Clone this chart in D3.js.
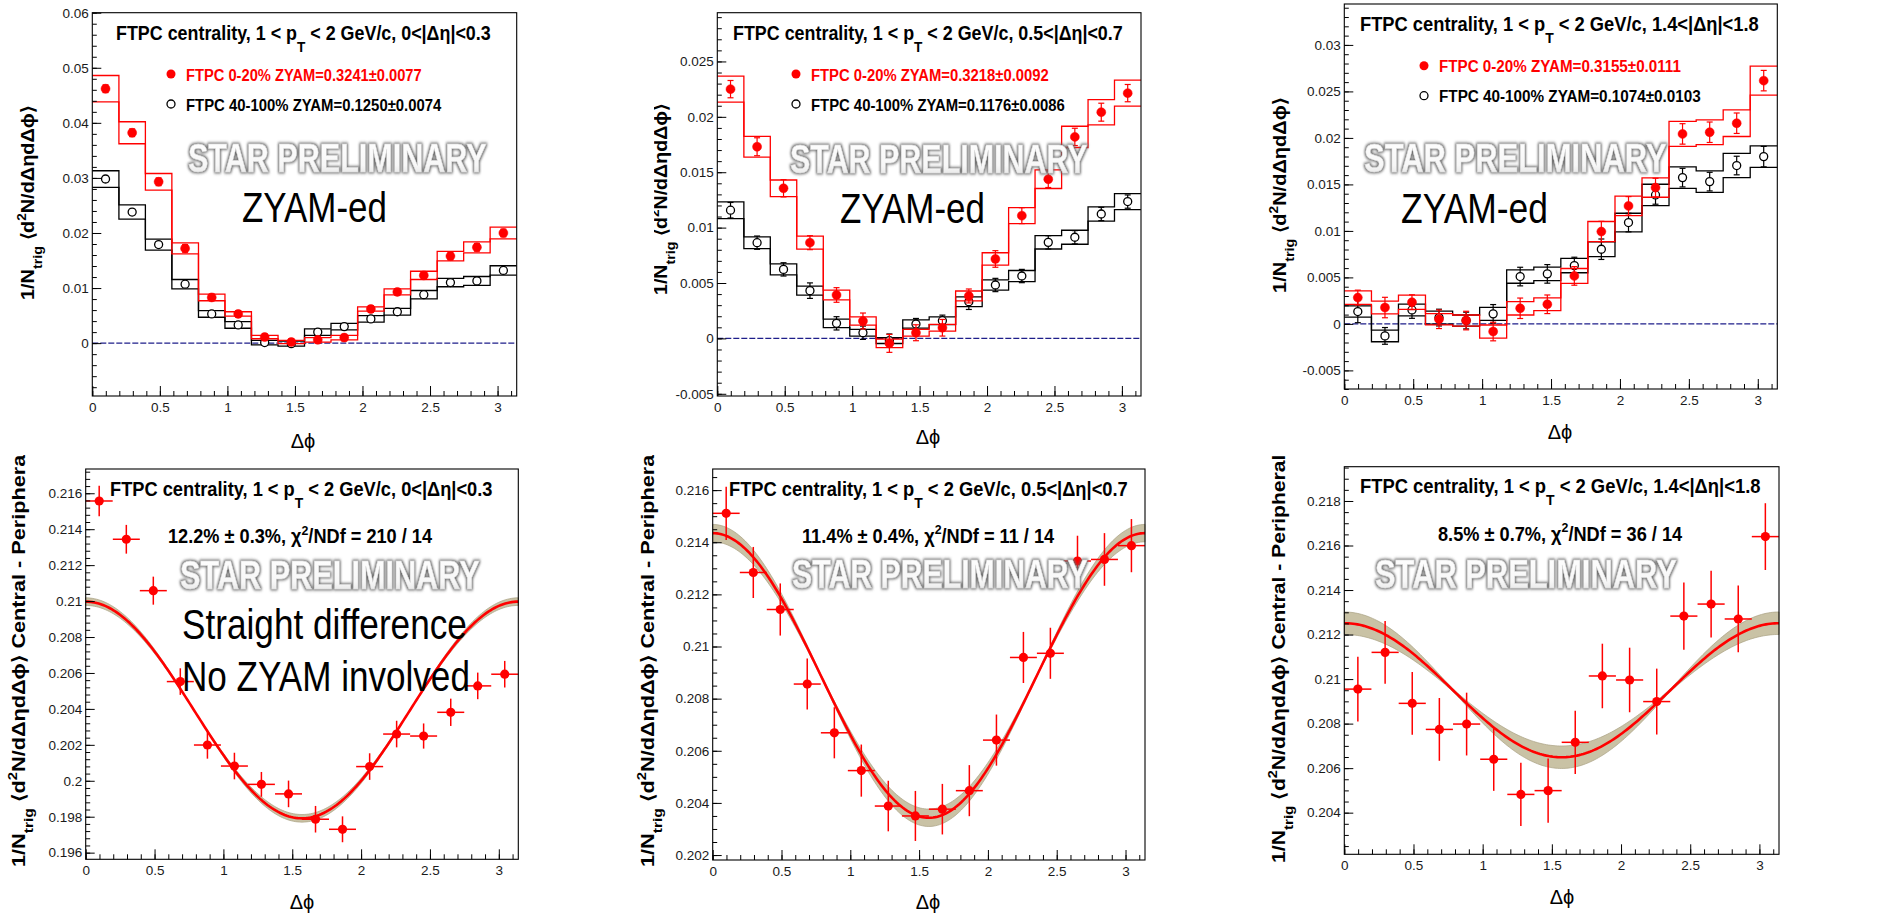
<!DOCTYPE html>
<html><head><meta charset="utf-8">
<script src="https://d3js.org/d3.v7.min.js"></script>
<style>
html,body{margin:0;padding:0;background:#fff;}
svg{display:block;font-family:"Liberation Sans",Arial,Helvetica,sans-serif;}
text{white-space:pre;}
</style>
</head><body>
<svg id="c" width="1880" height="914"></svg>
<script>
// ---------------- DATA ----------------
const phiCenters = [0.098,0.295,0.491,0.687,0.884,1.080,1.276,1.473,1.669,1.865,2.062,2.258,2.454,2.651,2.847,3.043];
const binHalfWidth = 0.098;
const xTickValues = [0,0.5,1,1.5,2,2.5,3];
const xTickLabels = ["0","0.5","1","1.5","2","2.5","3"];
const etaRanges = ["0<|Δη|<0.3","0.5<|Δη|<0.7","1.4<|Δη|<1.8"];

// top row: ZYAM-subtracted correlations
const legendCentral = ["FTPC 0-20% ZYAM=0.3241±0.0077","FTPC 0-20% ZYAM=0.3218±0.0092","FTPC 0-20% ZYAM=0.3155±0.0111"];
const legendPeriph  = ["FTPC 40-100% ZYAM=0.1250±0.0074","FTPC 40-100% ZYAM=0.1176±0.0086","FTPC 40-100% ZYAM=0.1074±0.0103"];

const zyamCentral1     = [0.0462,0.0382,0.0293,0.0172,0.0083,0.0053,0.0011,0.0002,0.0006,0.0010,0.0062,0.0093,0.0123,0.0158,0.0174,0.0200];
const zyamCentral1Stat = [0.0007,0.0007,0.0007,0.0007,0.0006,0.0006,0.0006,0.0006,0.0006,0.0006,0.0006,0.0006,0.0006,0.0007,0.0007,0.0007];
const zyamCentral1Sys  = [0.0024,0.0020,0.0015,0.0010,0.0006,0.0004,0.0003,0.0003,0.0004,0.0004,0.0004,0.00055,0.00075,0.00085,0.0010,0.00106];
const zyamPeriph1      = [0.0298,0.0238,0.0179,0.0107,0.0053,0.0033,0.0001,-0.0001,0.0020,0.0030,0.0044,0.0057,0.0088,0.0110,0.0113,0.0132];
const zyamPeriph1Stat  = [0.0005,0.0005,0.0005,0.0005,0.0005,0.0005,0.0005,0.0005,0.0005,0.0005,0.0005,0.0005,0.0005,0.0005,0.0005,0.0005];
const zyamPeriph1Sys   = [0.0015,0.0013,0.0010,0.00085,0.0006,0.0006,0.0004,0.00045,0.0006,0.0006,0.0006,0.0006,0.00076,0.00076,0.0008,0.00085];

const zyamCentral2     = [0.0225,0.0173,0.01355,0.00864,0.00392,0.00157,-0.00045,0.00051,0.00096,0.00383,0.00717,0.01108,0.01437,0.01819,0.02042,0.02214];
const zyamCentral2Stat = [0.00078,0.00081,0.00078,0.00063,0.00066,0.00072,0.00081,0.00072,0.00075,0.00063,0.00075,0.00072,0.00075,0.00078,0.00081,0.00078];
const zyamCentral2Sys  = [0.00117,0.00093,0.00075,0.00059,0.00044,0.00038,0.00039,0.0003,0.0003,0.00045,0.00056,0.00072,0.00084,0.00096,0.00114,0.00117];
const zyamPeriph2      = [0.01157,0.00864,0.00623,0.00431,0.00136,0.00051,-0.0002,0.0013,0.0016,0.00331,0.00482,0.00563,0.00867,0.00913,0.01123,0.01235];
const zyamPeriph2Stat  = [0.0007,0.0006,0.0006,0.0007,0.0006,0.0006,0.0006,0.0005,0.0005,0.0007,0.0006,0.0006,0.0006,0.0006,0.0006,0.0006];
const zyamPeriph2Sys   = [0.00075,0.00053,0.0005,0.0004,0.00038,0.0003,0.00026,0.00038,0.00035,0.00044,0.00047,0.0005,0.0006,0.00063,0.00065,0.00072];

const zyamCentral3     = [0.00283,0.00176,0.00233,0.0005,0.00036,-0.00082,0.00168,0.00211,0.00516,0.00993,0.01269,0.01466,0.02043,0.02061,0.02158,0.02616];
const zyamCentral3Stat = [0.0008,0.0011,0.0008,0.001,0.001,0.001,0.0011,0.001,0.001,0.0011,0.001,0.001,0.0011,0.0011,0.0011,0.0011];
const zyamCentral3Sys  = [0.00072,0.00068,0.00077,0.0006,0.0006,0.0007,0.00072,0.00068,0.0008,0.00108,0.00104,0.00104,0.00134,0.00134,0.00143,0.00156];
const zyamPeriph3      = [0.00133,-0.00129,0.0015,0.00068,0.00036,0.00108,0.00509,0.00538,0.00627,0.00803,0.0109,0.01387,0.01573,0.0153,0.01703,0.01799];
const zyamPeriph3Stat  = [0.0012,0.0009,0.0009,0.0009,0.0009,0.001,0.001,0.001,0.0009,0.0011,0.001,0.001,0.001,0.001,0.001,0.0011];
const zyamPeriph3Sys   = [0.0006,0.00063,0.00063,0.0007,0.0006,0.0007,0.00072,0.00072,0.00077,0.0008,0.001,0.00115,0.00116,0.00115,0.0013,0.00116];

const yTicksTop = [
  [0,0.01,0.02,0.03,0.04,0.05,0.06],
  [-0.005,0,0.005,0.01,0.015,0.02,0.025],
  [-0.005,0,0.005,0.01,0.015,0.02,0.025,0.03]
];
const yLabelsTop = [
  ["0","0.01","0.02","0.03","0.04","0.05","0.06"],
  ["-0.005","0","0.005","0.01","0.015","0.02","0.025"],
  ["-0.005","0","0.005","0.01","0.015","0.02","0.025","0.03"]
];

// bottom row: straight difference central - peripheral
const diff1    = [0.21557,0.21344,0.21058,0.20552,0.20199,0.20082,0.19980,0.19927,0.19786,0.19730,0.20079,0.20260,0.20249,0.20381,0.20528,0.20593];
const diff1Err = [0.00085,0.0008,0.00078,0.00074,0.00076,0.00074,0.00069,0.00074,0.00074,0.00072,0.00074,0.00074,0.0007,0.00076,0.00074,0.00074];
const diff2    = [0.21511,0.21284,0.21142,0.20856,0.20669,0.20524,0.20388,0.20350,0.20376,0.20447,0.20641,0.20958,0.20974,0.21328,0.21334,0.21387];
const diff2Err = [0.00102,0.00098,0.001,0.00098,0.00098,0.001,0.00097,0.00096,0.00097,0.00098,0.00098,0.00098,0.00098,0.00097,0.00101,0.00102];
const diff3    = [0.20955,0.21120,0.20891,0.20774,0.20798,0.20640,0.20482,0.20499,0.20716,0.21014,0.20996,0.20899,0.21283,0.21337,0.21270,0.21640];
const diff3Err = [0.00145,0.00141,0.00141,0.00141,0.00141,0.00142,0.00142,0.00144,0.00142,0.00145,0.00145,0.00148,0.00151,0.0015,0.0015,0.0015];

// fit: base + amp*cos(2 dphi), band from parameter errors
const fitBase    = [0.20394,0.20889,0.20950];
const fitAmp     = [0.00603,0.00546,0.00301];
const fitErrBase = [0.00003,0.00005,0.00007];
const fitErrAmp  = [0.00021,0.00033,0.0005];
const fitResult  = ["12.2%","11.4%","8.5%"];
const fitResErr  = ["0.3%","0.4%","0.7%"];
const fitChi2    = ["210 / 14","11 / 14","36 / 14"];

const yTicksBot = [
  [0.196,0.198,0.200,0.202,0.204,0.206,0.208,0.210,0.212,0.214,0.216],
  [0.202,0.204,0.206,0.208,0.210,0.212,0.214,0.216],
  [0.204,0.206,0.208,0.210,0.212,0.214,0.216,0.218]
];
const yLabelsBot = [
  ["0.196","0.198","0.2","0.202","0.204","0.206","0.208","0.21","0.212","0.214","0.216"],
  ["0.202","0.204","0.206","0.208","0.21","0.212","0.214","0.216"],
  ["0.204","0.206","0.208","0.21","0.212","0.214","0.216","0.218"]
];

// ---------------- LAYOUT ----------------
const RED = "#ff0000";
const FONT = "'Liberation Sans', Arial, Helvetica, sans-serif";
const svg = d3.select("#c");

const defs = svg.append("defs");
const flt = defs.append("filter").attr("id","wm").attr("x","-10%").attr("y","-50%").attr("width","120%").attr("height","200%");
flt.append("feMorphology").attr("in","SourceAlpha").attr("operator","dilate").attr("radius",1.0).attr("result","dil");
flt.append("feGaussianBlur").attr("in","dil").attr("stdDeviation",1.5).attr("result","blur");
flt.append("feFlood").attr("flood-color","#6a6a6a").attr("result","col");
flt.append("feComposite").attr("in","col").attr("in2","blur").attr("operator","in").attr("result","shadow");
const mg = flt.append("feMerge");
mg.append("feMergeNode").attr("in","shadow");
mg.append("feMergeNode").attr("in","SourceGraphic");
const grad = defs.append("linearGradient").attr("id","wmfill").attr("x1",0).attr("y1",0).attr("x2",0).attr("y2",1);
grad.append("stop").attr("offset","0%").attr("stop-color","#ffffff");
grad.append("stop").attr("offset","65%").attr("stop-color","#f7f7f7");
grad.append("stop").attr("offset","100%").attr("stop-color","#dcdcdc");

function addClip(id, x, y, w, h) {
  defs.append("clipPath").attr("id", id).append("rect").attr("x",x).attr("y",y).attr("width",w).attr("height",h);
}

function richText(parent, parts, fs, weight, fill) {
  const t = parent.append("text").attr("x",0).attr("y",0)
    .attr("font-size", fs).attr("font-weight", weight).attr("fill", fill).attr("font-family", FONT);
  let shift = 0;
  parts.forEach(p => {
    const ts = t.append("tspan").text(p.t);
    let target = 0, size = fs;
    if (p.sub) { target = p.shift !== undefined ? p.shift : fs * 0.45; size = fs * (p.scale || 0.72); }
    if (p.sup) { target = -fs * 0.42; size = fs * 0.68; }
    ts.attr("font-size", size);
    if (Math.abs(target - shift) > 1e-6) { ts.attr("dy", target - shift); shift = target; }
  });
  return t;
}

function placeText(parts, x, y, targetW, fs, weight, fill, extra) {
  const g = svg.append("g");
  const t = richText(g, parts, fs, weight, fill);
  if (extra) extra(t);
  const w = t.node().getBBox().width;
  g.attr("transform", `translate(${x},${y}) scale(${targetW / w},1)`);
  return g;
}
function placeVText(parent, parts, bx, by, len, fs) {
  const g = parent.append("g");
  const t = richText(g, parts, fs, "bold", "#000");
  const w = t.node().getBBox().width;
  g.attr("transform", `translate(${bx},${by}) rotate(-90) scale(${len / w},1)`);
  return g;
}
function watermark(x, y, w) {
  placeText([{t:"STAR PRELIMINARY"}], x, y, w, 40, "bold", "url(#wmfill)", t => t.attr("filter","url(#wm)").attr("stroke","#d8d8d8").attr("stroke-width",0.5));
}
function titleParts(eta) {
  return [{t:"FTPC centrality, 1 < p"},{t:"T", sub:true, shift:12, scale:0.76},{t:" < 2 GeV/c, " + eta}];
}
function minorRange(d0, d1, step) {
  const a = Math.ceil(d0 / step - 1e-6), b = Math.floor(d1 / step + 1e-6);
  return d3.range(a, b + 1).map(k => +(k * step).toFixed(6));
}

function drawAxes(g, x, y, L, yTicks, yLabels, yMinorStep) {
  const dom = y.domain();
  const style = sel => {
    sel.select(".domain").remove();
    sel.selectAll("line").attr("stroke","#000").attr("stroke-width",1);
    sel.selectAll("text").attr("font-size",13.5).attr("font-family",FONT).attr("fill","#1a1a1a");
    sel.attr("font-family", null).attr("font-size", null);
  };
  g.append("g").attr("transform",`translate(0,${L.y1})`)
    .call(d3.axisBottom(x).tickValues(minorRange(0, Math.PI, 0.1)).tickSize(-5).tickFormat(""))
    .call(style);
  g.append("g").attr("transform",`translate(0,${L.y1})`)
    .call(d3.axisBottom(x).tickValues(xTickValues).tickSize(-10).tickPadding(6).tickFormat((d,i) => xTickLabels[i]))
    .call(style);
  g.append("g").attr("transform",`translate(${L.x0},0)`)
    .call(d3.axisLeft(y).tickValues(minorRange(dom[0], dom[1], yMinorStep)).tickSize(-4.5).tickFormat(""))
    .call(style);
  g.append("g").attr("transform",`translate(${L.x0},0)`)
    .call(d3.axisLeft(y).tickValues(yTicks).tickSize(-9).tickPadding(3.5).tickFormat((d,i) => yLabels[i]))
    .call(style);
  g.append("rect").attr("x",L.x0).attr("y",L.y0).attr("width",L.x1-L.x0).attr("height",L.y1-L.y0)
    .attr("fill","none").attr("stroke","#000").attr("stroke-width",1.1);
}

function stepPath(x, y, vals) {
  const pts = vals.map((v,i) => [phiCenters[i] - binHalfWidth, v]);
  pts.push([phiCenters[vals.length-1] + binHalfWidth, vals[vals.length-1]]);
  return d3.line().x(d => x(d[0])).y(d => y(d[1])).curve(d3.curveStepAfter)(pts);
}

function drawZyamSeries(g, x, y, vals, stat, sys, color, filled) {
  const up = vals.map((v,i) => v + sys[i]);
  const lo = vals.map((v,i) => v - sys[i]);
  [up, lo].forEach(arr => g.append("path").attr("d", stepPath(x, y, arr))
    .attr("fill","none").attr("stroke",color).attr("stroke-width",1.3));
  const pts = g.append("g").selectAll("g").data(vals).join("g");
  pts.append("line").attr("x1",(d,i)=>x(phiCenters[i])).attr("x2",(d,i)=>x(phiCenters[i]))
    .attr("y1",(d,i)=>y(d - stat[i])).attr("y2",(d,i)=>y(d + stat[i])).attr("stroke",color).attr("stroke-width",1.2);
  [-1,1].forEach(s => pts.append("line")
    .attr("x1",(d,i)=>x(phiCenters[i]) - 3).attr("x2",(d,i)=>x(phiCenters[i]) + 3)
    .attr("y1",(d,i)=>y(d + s*stat[i])).attr("y2",(d,i)=>y(d + s*stat[i]))
    .attr("stroke",color).attr("stroke-width",1.2));
  pts.append("circle").attr("cx",(d,i)=>x(phiCenters[i])).attr("cy",d=>y(d))
    .attr("r", filled ? 4.5 : 4)
    .attr("fill", filled ? color : "#fff").attr("stroke", color).attr("stroke-width", filled ? 0.5 : 1.3);
}

const topLayout = [
  {x0:92.3, x1:516.7, y0:12.7, y1:396, yDom:[-0.0096,0.06], minor:0.002,
   title:[116,39.5,375], legC:[171,74,186,80.5,236], legP:[171,104,186,110.5,256], wm:[188,172,299], zy:[242,222,145],
   dphi:[303,448], yt:[33.5,300,195]},
  {x0:717.3, x1:1141, y0:12.7, y1:396, yDom:[-0.0052,0.0294], minor:0.001,
   title:[733,39.5,390], legC:[796,74,811,80.5,238], legP:[796,104,811,110.5,254], wm:[790,172.5,298], zy:[840,222.5,145],
   dphi:[928,444], yt:[667,295,192], clip:[654,0,600,452]},
  {x0:1344.3, x1:1777.3, y0:4, y1:389, yDom:[-0.0070,0.0344], minor:0.001,
   title:[1360,30.7,399], legC:[1424,65.7,1439,72,242], legP:[1424,95.7,1439,102,262], wm:[1364,172,303], zy:[1401,222.5,147],
   dphi:[1560,439], yt:[1286,293,196]}
];
const topData = [
  [zyamCentral1,zyamCentral1Stat,zyamCentral1Sys,zyamPeriph1,zyamPeriph1Stat,zyamPeriph1Sys],
  [zyamCentral2,zyamCentral2Stat,zyamCentral2Sys,zyamPeriph2,zyamPeriph2Stat,zyamPeriph2Sys],
  [zyamCentral3,zyamCentral3Stat,zyamCentral3Sys,zyamPeriph3,zyamPeriph3Stat,zyamPeriph3Sys]
];
const yTitleTop = [{t:"1/N"},{t:"trig",sub:true},{t:" ⟨d"},{t:"2",sup:true},{t:"N/dΔηdΔϕ⟩"}];
const yTitleBot = yTitleTop.concat([{t:" Central - Peripheral"}]);

topLayout.forEach((L, k) => {
  const [c, cs, csy, p, ps, psy] = topData[k];
  const x = d3.scaleLinear().domain([0, Math.PI]).range([L.x0, L.x1]);
  const y = d3.scaleLinear().domain(L.yDom).range([L.y1, L.y0]);
  const g = svg.append("g");
  g.append("line").attr("x1",x(0)).attr("x2",x(Math.PI)).attr("y1",y(0)).attr("y2",y(0))
    .attr("stroke","#1e1e8a").attr("stroke-width",1.3).attr("stroke-dasharray","6,2");
  drawZyamSeries(g, x, y, p, ps, psy, "#000", false);
  drawZyamSeries(g, x, y, c, cs, csy, RED, true);
  drawAxes(g, x, y, L, yTicksTop[k], yLabelsTop[k], L.minor);
  const tg = svg.append("g");
  if (L.clip) { addClip("clipT"+k, ...L.clip); tg.attr("clip-path",`url(#clipT${k})`); }
  placeVText(tg, yTitleTop, L.yt[0], L.yt[1], L.yt[2], 18);
  svg.append("text").attr("x",L.dphi[0]).attr("y",L.dphi[1]).attr("text-anchor","middle")
    .attr("font-size",20).attr("font-family",FONT).text("Δϕ");
  placeText(titleParts(etaRanges[k]), L.title[0], L.title[1], L.title[2], 19.5, "bold", "#000");
  svg.append("circle").attr("cx",L.legC[0]).attr("cy",L.legC[1]).attr("r",4.5).attr("fill",RED);
  placeText([{t:legendCentral[k]}], L.legC[2], L.legC[3], L.legC[4], 17, "bold", RED);
  svg.append("circle").attr("cx",L.legP[0]).attr("cy",L.legP[1]).attr("r",4).attr("fill","#fff").attr("stroke","#000").attr("stroke-width",1.3);
  placeText([{t:legendPeriph[k]}], L.legP[2], L.legP[3], L.legP[4], 17, "bold", "#000");
  watermark(L.wm[0], L.wm[1], L.wm[2]);
  placeText([{t:"ZYAM-ed"}], L.zy[0], L.zy[1], L.zy[2], 42, "normal", "#000");
});

const botLayout = [
  {x0:85.7, x1:518.3, y0:469, y1:859.3, yDom:[0.19563,0.21735], minor:0.0004,
   title:[110,495.5,383], res:[168,543,265], wm:[180,588.5,300], dphi:[302,909], yt:[25,867,418], clip:[0,455,640,459]},
  {x0:712.7, x1:1145, y0:469, y1:860, yDom:[0.20181,0.21681], minor:0.0005,
   title:[729,495.7,399], res:[802,542.7,253], wm:[792,588,296], dphi:[928,909], yt:[654,867,418], clip:[630,455,640,459]},
  {x0:1344.3, x1:1779, y0:466.7, y1:854.3, yDom:[0.20213,0.21954], minor:0.0005,
   title:[1360,493.3,401], res:[1438,540.7,245], wm:[1375,588,302], dphi:[1562,904], yt:[1285,863,408]}
];
const botData = [[diff1,diff1Err],[diff2,diff2Err],[diff3,diff3Err]];
const fitSamples = d3.range(0, 201).map(i => i * Math.PI / 200);

botLayout.forEach((L, k) => {
  const [vals, errs] = botData[k];
  const x = d3.scaleLinear().domain([0, Math.PI]).range([L.x0, L.x1]);
  const y = d3.scaleLinear().domain(L.yDom).range([L.y1, L.y0]);
  const g = svg.append("g");
  const f = phi => fitBase[k] + fitAmp[k] * Math.cos(2 * phi);
  const h = phi => Math.sqrt(fitErrBase[k] ** 2 + (fitErrAmp[k] * Math.cos(2 * phi)) ** 2);
  g.append("path").datum(fitSamples)
    .attr("d", d3.area().x(d => x(d)).y0(d => y(f(d) - h(d))).y1(d => y(f(d) + h(d))))
    .attr("fill","#c9c2a5").attr("stroke","#a9a083").attr("stroke-width",0.7);
  g.append("path").datum(fitSamples)
    .attr("d", d3.line().x(d => x(d)).y(d => y(f(d))))
    .attr("fill","none").attr("stroke",RED).attr("stroke-width",2.6);
  const pts = g.append("g").selectAll("g").data(vals).join("g");
  pts.append("line").attr("x1",(d,i)=>x(phiCenters[i]-binHalfWidth)).attr("x2",(d,i)=>x(phiCenters[i]+binHalfWidth))
    .attr("y1",d=>y(d)).attr("y2",d=>y(d)).attr("stroke",RED).attr("stroke-width",1.5);
  pts.append("line").attr("x1",(d,i)=>x(phiCenters[i])).attr("x2",(d,i)=>x(phiCenters[i]))
    .attr("y1",(d,i)=>y(d-errs[i])).attr("y2",(d,i)=>y(d+errs[i])).attr("stroke",RED).attr("stroke-width",1.5);
  pts.append("circle").attr("cx",(d,i)=>x(phiCenters[i])).attr("cy",d=>y(d)).attr("r",4.6).attr("fill",RED);
  drawAxes(g, x, y, L, yTicksBot[k], yLabelsBot[k], L.minor);
  const tg = svg.append("g");
  if (L.clip) { addClip("clipB"+k, ...L.clip); tg.attr("clip-path",`url(#clipB${k})`); }
  placeVText(tg, yTitleBot, L.yt[0], L.yt[1], L.yt[2], 18);
  svg.append("text").attr("x",L.dphi[0]).attr("y",L.dphi[1]).attr("text-anchor","middle")
    .attr("font-size",20).attr("font-family",FONT).text("Δϕ");
  placeText(titleParts(etaRanges[k]), L.title[0], L.title[1], L.title[2], 19.5, "bold", "#000");
  placeText([{t:fitResult[k] + " ± " + fitResErr[k] + ", χ"},{t:"2",sup:true},{t:"/NDf = " + fitChi2[k]}],
    L.res[0], L.res[1], L.res[2], 20, "bold", "#000");
  watermark(L.wm[0], L.wm[1], L.wm[2]);
});
placeText([{t:"Straight difference"}], 182, 639, 285, 42, "normal", "#000");
placeText([{t:"No ZYAM involved"}], 182, 690.7, 288, 42, "normal", "#000");
</script>
</body></html>
